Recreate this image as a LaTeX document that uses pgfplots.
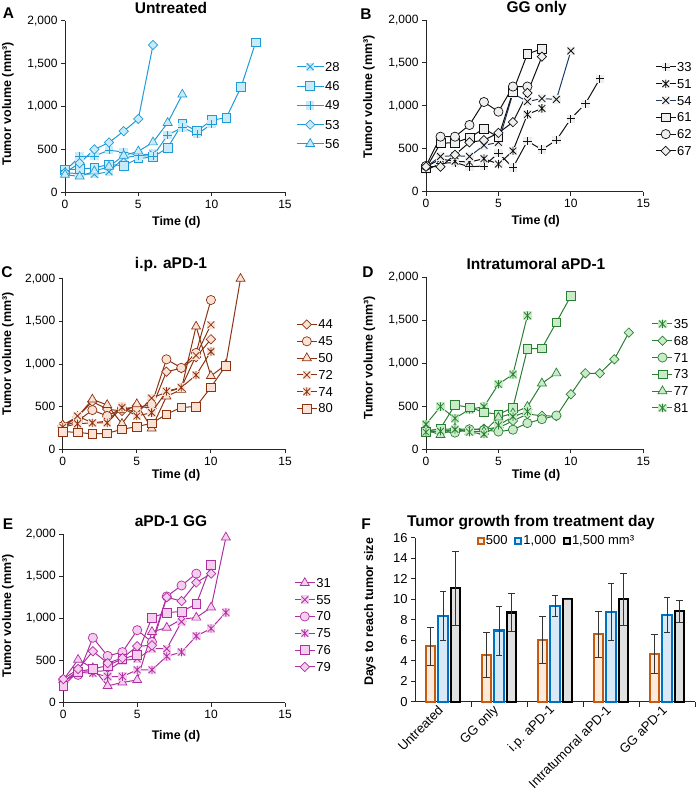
\documentclass[border=0pt]{standalone}
\usepackage{fontspec}
\setmainfont{Liberation Sans}
\usepackage{pgfplots}
\pgfplotsset{compat=1.18}

% series colours
\definecolor{aLine}{HTML}{1E9BD7}\definecolor{aFill}{HTML}{C9EAF8}
\definecolor{bLine}{HTML}{111111}\definecolor{bFill}{HTML}{EFEFEF}\definecolor{bNavy}{HTML}{1F3864}
\definecolor{cLine}{HTML}{8C3312}\definecolor{cFill}{HTML}{FBE2D5}
\definecolor{dLine}{HTML}{2B7F34}\definecolor{dFill}{HTML}{C8EBC8}
\definecolor{eLine}{HTML}{AE2FA0}\definecolor{eFill}{HTML}{F4CDEF}
\definecolor{f5Line}{HTML}{C55A11}\definecolor{f5Fill}{HTML}{FDEADB}
\definecolor{f10Line}{HTML}{0070C0}\definecolor{f10Fill}{HTML}{DAE9F7}
\definecolor{f15Fill}{HTML}{E0E0E0}

% marks drawn over a filled square background
\pgfdeclareplotmark{xbox}{%
  \pgfpathrectangle{\pgfqpoint{-\pgfplotmarksize}{-\pgfplotmarksize}}{\pgfqpoint{2\pgfplotmarksize}{2\pgfplotmarksize}}%
  \pgfusepathqfill
  \pgfpathmoveto{\pgfqpoint{-.8\pgfplotmarksize}{-.8\pgfplotmarksize}}%
  \pgfpathlineto{\pgfqpoint{.8\pgfplotmarksize}{.8\pgfplotmarksize}}%
  \pgfpathmoveto{\pgfqpoint{-.8\pgfplotmarksize}{.8\pgfplotmarksize}}%
  \pgfpathlineto{\pgfqpoint{.8\pgfplotmarksize}{-.8\pgfplotmarksize}}%
  \pgfusepathqstroke}
\pgfdeclareplotmark{pbox}{%
  \pgfpathrectangle{\pgfqpoint{-\pgfplotmarksize}{-\pgfplotmarksize}}{\pgfqpoint{2\pgfplotmarksize}{2\pgfplotmarksize}}%
  \pgfusepathqfill
  \pgfpathmoveto{\pgfqpoint{-\pgfplotmarksize}{0pt}}%
  \pgfpathlineto{\pgfqpoint{\pgfplotmarksize}{0pt}}%
  \pgfpathmoveto{\pgfqpoint{0pt}{\pgfplotmarksize}}%
  \pgfpathlineto{\pgfqpoint{0pt}{-\pgfplotmarksize}}%
  \pgfusepathqstroke}
\pgfdeclareplotmark{sbox}{%
  \pgfpathrectangle{\pgfqpoint{-\pgfplotmarksize}{-\pgfplotmarksize}}{\pgfqpoint{2\pgfplotmarksize}{2\pgfplotmarksize}}%
  \pgfusepathqfill
  \pgfpathmoveto{\pgfqpoint{-.8\pgfplotmarksize}{-.8\pgfplotmarksize}}%
  \pgfpathlineto{\pgfqpoint{.8\pgfplotmarksize}{.8\pgfplotmarksize}}%
  \pgfpathmoveto{\pgfqpoint{-.8\pgfplotmarksize}{.8\pgfplotmarksize}}%
  \pgfpathlineto{\pgfqpoint{.8\pgfplotmarksize}{-.8\pgfplotmarksize}}%
  \pgfpathmoveto{\pgfqpoint{0pt}{\pgfplotmarksize}}%
  \pgfpathlineto{\pgfqpoint{0pt}{-\pgfplotmarksize}}%
  \pgfusepathqstroke}

\newcommand\tickfont{\fontsize{12bp}{14bp}\selectfont}
\newcommand\bartickfont{\fontsize{13bp}{15bp}\selectfont}
\newcommand\legfont{\fontsize{13bp}{15bp}\selectfont}
\newcommand\titlefont{\fontsize{15.5bp}{18bp}\selectfont\bfseries}
\newcommand\labfont{\fontsize{12.5bp}{15bp}\selectfont\bfseries}

\pgfplotsset{
  growth/.style={
    scale only axis, clip=false,
    xmin=0, xmax=15, ymin=0, ymax=2000,
    axis lines=left, axis line style={-, line width=0.9pt, black!85},
    xtick={0,5,10,15}, ytick={0,500,1000,1500,2000},
    tick align=outside, major tick length=4bp,
    tick style={line width=0.9pt, black!85},
    tick label style={font=\tickfont},
    /pgf/number format/assume math mode=true,
    /pgf/number format/1000 sep={,},
    scaled y ticks=false,
    legend cell align=left,
    legend style={draw=none, fill=none, inner sep=0pt, font=\legfont,
      anchor=north west, row sep=5.8bp,
      nodes={inner sep=1bp, text height=9bp, text depth=0bp}},
  },
  legA/.style={legend image code/.code={\draw[mark repeat=2,mark phase=2,##1]
      plot coordinates {(0bp,0bp) (13.5bp,0bp) (27bp,0bp)};}},
  legS/.style={legend image code/.code={\draw[mark repeat=2,mark phase=2,##1]
      plot coordinates {(0bp,0bp) (10bp,0bp) (20bp,0bp)};}},
  % one style per marker shape: #1 line colour, #2 fill colour
  sq/.style 2 args={color=#1, line width=1pt, mark=square*, mark size=4.4bp,
      mark options={solid, fill=#2, line width=0.7pt}},
  ci/.style 2 args={color=#1, line width=1pt, mark=*, mark size=4.6bp,
      mark options={solid, fill=#2, line width=0.7pt}},
  tr/.style 2 args={color=#1, line width=1pt, mark=triangle*, mark size=5.2bp,
      mark options={solid, fill=#2, line width=0.7pt}},
  di/.style 2 args={color=#1, line width=1pt, mark=square*, mark size=3.3bp,
      mark options={solid, fill=#2, line width=0.7pt, rotate=45}},
  xb/.style 2 args={color=#1, line width=1pt, mark=xbox, mark size=4.2bp,
      mark options={solid, fill=#2, line width=0.8pt}},
  pb/.style 2 args={color=#1, line width=1pt, mark=pbox, mark size=4.2bp,
      mark options={solid, fill=#2, line width=0.8pt}},
  sb/.style 2 args={color=#1, line width=1pt, mark=sbox, mark size=4.2bp,
      mark options={solid, fill=#2, line width=0.8pt}},
  % bars with symmetric error bars
  errbar/.style={
    error bars/y dir=both, error bars/y explicit,
    error bars/error bar style={black!80, line width=0.7pt},
    error bars/error mark options={rotate=90, black!80, mark size=3.2bp, line width=0.7pt}},
}

\begin{document}
\begin{tikzpicture}
\useasboundingbox (0,0) rectangle (700bp,-795bp);

% ---------------- A: Untreated
\begin{axis}[growth, legA, at={(65bp,-192.3bp)}, anchor=south west,
  width=220bp, height=171.6bp, legend style={at={(1.05,0.765)}, row sep=8.3bp}]
\addplot[xb={aLine}{aFill}] coordinates {(0,230) (1,215) (2,210) (3,240) (4,400) (5,430) (6,450)};
\addplot[sq={aLine}{aFill}] coordinates {(0,265) (1,270) (2,285) (3,325) (4,310) (5,395) (6,410) (7,520) (8,800) (9,715) (10,840) (11,870) (12,1225) (13,1748)};
\addplot[pb={aLine}{aFill}] coordinates {(0,250) (1,415) (2,423) (3,490) (4,470) (5,430) (6,420) (7,668) (8,756) (9,678) (10,795)};
\addplot[di={aLine}{aFill}] coordinates {(0,230) (1,340) (2,500) (3,580) (4,712) (5,855) (6,1716)};
\addplot[tr={aLine}{aFill}] coordinates {(0,205) (1,185) (2,245) (3,300) (4,428) (5,478) (6,583) (7,810) (8,1140)};
\legend{28,46,49,53,56}
\end{axis}

% ---------------- B: GG only
\begin{axis}[growth, legS, at={(426bp,-191.7bp)}, anchor=south west,
  width=217.3bp, height=171.7bp, legend style={at={(1.054,0.76)}}]
\addplot[pb={bLine}{bFill}] coordinates {(0,250) (1,330) (2,340) (3,290) (4,300) (5,450) (6,280) (7,590) (8,490) (9,600) (10,850) (11,1025) (12,1315)};
\addplot[sb={bLine}{bFill}] coordinates {(0,290) (1,380) (2,355) (3,345) (4,385) (5,322) (6,475) (7,900) (8,970)};
\addplot[color=bNavy, line width=1pt, mark=xbox, mark size=4.2bp,
  mark options={solid, draw=bLine, fill=bFill, line width=0.8pt}]
  coordinates {(0,290) (1,410) (2,420) (3,410) (4,540) (5,575) (6,1145) (7,1050) (8,1085) (9,1075) (10,1640)};
\addplot[sq={bLine}{bFill}] coordinates {(0,272) (1,565) (2,570) (3,630) (4,734) (5,635) (6,1165) (7,1604) (8,1665)};
\addplot[ci={bLine}{bFill}] coordinates {(0,300) (1,641) (2,641) (3,777) (4,1045) (5,932) (6,1225) (7,1225)};
\addplot[di={bLine}{bFill}] coordinates {(0,291) (1,291) (2,430) (3,575) (4,600) (5,685) (6,810) (7,1150) (8,1573)};
\legend{33,51,54,61,62,67}
\end{axis}

% ---------------- C: i.p. aPD-1
\begin{axis}[growth, legS, at={(62.7bp,-449.3bp)}, anchor=south west,
  width=222.3bp, height=170.6bp, legend style={at={(1.05,0.765)}}]
\addplot[di={cLine}{cFill}] coordinates {(0,280) (1,380) (2,560) (3,470) (4,450) (5,510) (6,480) (7,910) (8,950) (9,1080) (10,1290)};
\addplot[ci={cLine}{cFill}] coordinates {(0,270) (1,330) (2,460) (3,390) (4,480) (5,490) (6,525) (7,1055) (8,955) (9,1130) (10,1750)};
\addplot[tr={cLine}{cFill}] coordinates {(0,285) (1,380) (2,585) (3,520) (4,300) (5,530) (6,245) (7,620) (8,700) (9,1440) (10,860) (11,990) (12,2000)};
\addplot[xb={cLine}{cFill}] coordinates {(0,250) (1,390) (2,310) (3,330) (4,500) (5,420) (6,600) (7,670) (8,720) (9,1100) (10,1460)};
\addplot[sb={cLine}{cFill}] coordinates {(0,260) (1,300) (2,310) (3,310) (4,490) (5,390) (6,430) (7,680) (8,725) (9,870) (10,1145)};
\addplot[sq={cLine}{cFill}] coordinates {(0,207) (1,199) (2,180) (3,188) (4,234) (5,266) (6,305) (7,410) (8,492) (9,500) (10,727) (11,980)};
\legend{44,45,50,72,74,80}
\end{axis}

% ---------------- D: Intratumoral aPD-1
\begin{axis}[growth, legS, at={(426bp,-449.3bp)}, anchor=south west,
  width=217.3bp, height=172bp, legend style={at={(1.039,0.762)}}]
\addplot[sb={dLine}{dFill}] coordinates {(0,291) (1,496) (2,360) (3,465) (4,496) (5,756) (6,872) (7,1554)};
\addplot[di={dLine}{dFill}] coordinates {(0,220) (1,230) (2,240) (3,230) (4,240) (5,250) (6,330) (7,410) (8,390) (9,385) (10,640) (11,884) (12,884) (13,1047) (14,1357)};
\addplot[ci={dLine}{dFill}] coordinates {(0,205) (1,205) (2,194) (3,233) (4,225) (5,206) (6,228) (7,305) (8,350) (9,393)};
\addplot[sq={dLine}{dFill}] coordinates {(0,205) (1,244) (2,515) (3,488) (4,430) (5,407) (6,484) (7,1167) (8,1174) (9,1477) (10,1783)};
\addplot[tr={dLine}{dFill}] coordinates {(0,225) (1,167) (2,244) (3,205) (4,205) (5,370) (6,419) (7,496) (8,767) (9,884)};
\addplot[sb={dLine}{dFill}] coordinates {(0,200) (1,210) (2,230) (3,200) (4,175) (5,280) (6,380) (7,440)};
\legend{35,68,71,73,77,81}
\end{axis}

% ---------------- E: aPD-1 GG
\begin{axis}[growth, legS, at={(63.3bp,-702.7bp)}, anchor=south west,
  width=221.7bp, height=168.7bp, legend style={at={(1.041,0.744)}}]
\addplot[tr={eLine}{eFill}] coordinates {(0,270) (1,510) (2,410) (3,200) (4,240) (5,270) (6,840) (7,890) (8,990) (9,1010) (10,1130) (11,1960)};
\addplot[xb={eLine}{eFill}] coordinates {(0,250) (1,380) (2,370) (3,380) (4,500) (5,520) (6,640) (7,640) (8,960)};
\addplot[ci={eLine}{eFill}] coordinates {(0,270) (1,330) (2,770) (3,555) (4,600) (5,860) (6,720) (7,1260) (8,1390) (9,1530)};
\addplot[sb={eLine}{eFill}] coordinates {(0,250) (1,360) (2,350) (3,310) (4,310) (5,390) (6,390) (7,550) (8,600) (9,790) (10,880) (11,1070)};
\addplot[sq={eLine}{eFill}] coordinates {(0,200) (1,370) (2,400) (3,440) (4,520) (5,570) (6,1010) (7,1070) (8,1080) (9,1170) (10,1630)};
\addplot[di={eLine}{eFill}] coordinates {(0,280) (1,400) (2,610) (3,470) (4,530) (5,670) (6,680) (7,1250) (8,1205) (9,1425) (10,1530)};
\legend{31,55,70,75,76,79}
\end{axis}

% ---------------- F: days to reach tumour size
\begin{axis}[scale only axis, at={(415bp,-701.7bp)}, anchor=south west,
  width=280bp, height=164bp, clip=false,
  xmin=-0.5, xmax=4.5, ymin=0, ymax=16,
  axis lines=left, axis line style={-, line width=0.9pt, black!85},
  ybar=2.9bp, bar width=9.6bp,
  xtick={0,1,2,3,4},
  xticklabels={Untreated, GG only, i.p. aPD-1, Intratumoral aPD-1, GG aPD-1},
  minor xtick={0.5,1.5,2.5,3.5,4.5},
  major x tick style={draw=none},
  ytick={0,2,...,16},
  tick align=outside, major tick length=4bp, minor tick length=5bp,
  tick style={line width=0.9pt, black!85},
  tick label style={font=\bartickfont},
  xticklabel style={rotate=45, anchor=east, font=\bartickfont},
  /pgf/number format/assume math mode=true,
  legend columns=3,
  legend style={draw=none, fill=none, inner sep=0pt, font=\legfont,
    at={(0.22,0.98)}, anchor=west,
    nodes={inner sep=1bp},
    /tikz/every even column/.append style={column sep=6bp}},
  legend image code/.code={\draw[#1, line width=2pt] (0bp,-3bp) rectangle (6bp,3bp);},
]
\addplot[errbar, draw=f5Line, fill=f5Fill, line width=2.2pt] coordinates {
  (0,5.44) +- (0,1.86) (1,4.56) +- (0,2.23) (2,6.03) +- (0,2.25) (3,6.58) +- (0,2.25) (4,4.66) +- (0,1.87)};
\addplot[errbar, draw=f10Line, fill=f10Fill, line width=2.2pt] coordinates {
  (0,8.40) +- (0,2.4) (1,6.94) +- (0,2.39) (2,9.35) +- (0,1.05) (3,8.73) +- (0,2.77) (4,8.47) +- (0,1.68)};
\addplot[errbar, draw=black, fill=f15Fill, line width=2.2pt] coordinates {
  (0,11.07) +- (0,3.58) (1,8.70) +- (0,1.83) (2,10.0) +- (0,0) (3,10.0) +- (0,2.53) (4,8.86) +- (0,1.07)};
\legend{500, {1,000}, {1,500 mm³}}
\end{axis}

% ---------------- titles, axis labels and panel letters
\node[font=\titlefont] at (171bp,-8bp) {Untreated};
\node[font=\titlefont] at (536.7bp,-8.5bp) {GG only};
\node[font=\titlefont] at (171bp,-264bp) {i.p. aPD-1};
\node[font=\titlefont] at (536bp,-264bp) {Intratumoral aPD-1};
\node[font=\titlefont] at (171bp,-521bp) {aPD-1 GG};
\node[font=\titlefont] at (531bp,-523bp) {Tumor growth from treatment day};

\foreach \x/\y in {176.3/222, 535.7/221.7, 176/475.7, 536/475.7, 176/736}
  \node[font=\labfont] at (\x bp,-\y bp) {Time (d)};
\foreach \x/\y in {8/104, 369/97, 8/354, 369.5/358, 8/616}
  \node[font=\labfont, rotate=90] at (\x bp,-\y bp) {Tumor volume (mm³)};
\node[font=\labfont, rotate=90] at (370bp,-612bp) {Days to reach tumor size};

\node[font=\titlefont] at (8.5bp,-13bp) {A};
\node[font=\titlefont] at (366bp,-14.5bp) {B};
\node[font=\titlefont] at (7bp,-272bp) {C};
\node[font=\titlefont] at (368bp,-272bp) {D};
\node[font=\titlefont] at (8bp,-524bp) {E};
\node[font=\titlefont] at (366bp,-524bp) {F};
\end{tikzpicture}
\end{document}
